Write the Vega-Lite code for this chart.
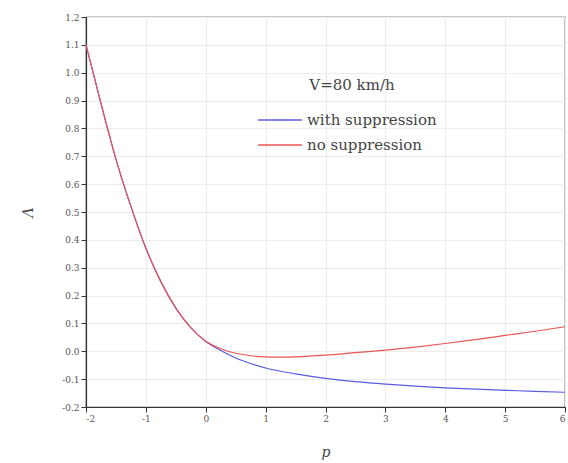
{
  "$schema": "https://vega.github.io/schema/vega-lite/v6.json",
  "width": 479,
  "height": 390,
  "autosize": {"type": "none"},
  "padding": {"left": 86, "top": 17, "right": 3, "bottom": 56},
  "background": "white",
  "config": {
    "font": "DejaVu Serif",
    "view": {"stroke": "#333333", "strokeWidth": 1.2},
    "axis": {
      "labelFont": "DejaVu Serif",
      "titleFont": "DejaVu Serif",
      "labelFontSize": 9,
      "labelColor": "#555555",
      "tickColor": "#333333",
      "domainColor": "#333333",
      "domainWidth": 1.2,
      "tickSize": 5,
      "gridColor": "#ececec",
      "gridWidth": 1,
      "titleFontWeight": "normal",
      "titleFontStyle": "italic",
      "titleFontSize": 14,
      "titleColor": "#444444"
    },
    "legend": {
      "labelFont": "DejaVu Serif",
      "titleFont": "DejaVu Serif"
    }
  },
  "data": {
    "values": [
      {"p": -2.0, "A": 1.100, "series": "with suppression"},
      {"p": -1.75, "A": 0.890, "series": "with suppression"},
      {"p": -1.5, "A": 0.690, "series": "with suppression"},
      {"p": -1.25, "A": 0.520, "series": "with suppression"},
      {"p": -1.0, "A": 0.370, "series": "with suppression"},
      {"p": -0.75, "A": 0.250, "series": "with suppression"},
      {"p": -0.5, "A": 0.155, "series": "with suppression"},
      {"p": -0.25, "A": 0.085, "series": "with suppression"},
      {"p": 0.0, "A": 0.035, "series": "with suppression"},
      {"p": 0.25, "A": 0.003, "series": "with suppression"},
      {"p": 0.5, "A": -0.024, "series": "with suppression"},
      {"p": 0.75, "A": -0.044, "series": "with suppression"},
      {"p": 1.0, "A": -0.060, "series": "with suppression"},
      {"p": 1.5, "A": -0.081, "series": "with suppression"},
      {"p": 2.0, "A": -0.097, "series": "with suppression"},
      {"p": 2.5, "A": -0.109, "series": "with suppression"},
      {"p": 3.0, "A": -0.118, "series": "with suppression"},
      {"p": 3.5, "A": -0.125, "series": "with suppression"},
      {"p": 4.0, "A": -0.131, "series": "with suppression"},
      {"p": 4.5, "A": -0.136, "series": "with suppression"},
      {"p": 5.0, "A": -0.140, "series": "with suppression"},
      {"p": 5.5, "A": -0.144, "series": "with suppression"},
      {"p": 6.0, "A": -0.147, "series": "with suppression"},
      {"p": -2.0, "A": 1.100, "series": "no suppression"},
      {"p": -1.75, "A": 0.890, "series": "no suppression"},
      {"p": -1.5, "A": 0.690, "series": "no suppression"},
      {"p": -1.25, "A": 0.520, "series": "no suppression"},
      {"p": -1.0, "A": 0.370, "series": "no suppression"},
      {"p": -0.75, "A": 0.250, "series": "no suppression"},
      {"p": -0.5, "A": 0.155, "series": "no suppression"},
      {"p": -0.25, "A": 0.085, "series": "no suppression"},
      {"p": 0.0, "A": 0.036, "series": "no suppression"},
      {"p": 0.25, "A": 0.009, "series": "no suppression"},
      {"p": 0.5, "A": -0.007, "series": "no suppression"},
      {"p": 0.75, "A": -0.016, "series": "no suppression"},
      {"p": 1.0, "A": -0.020, "series": "no suppression"},
      {"p": 1.25, "A": -0.021, "series": "no suppression"},
      {"p": 1.5, "A": -0.020, "series": "no suppression"},
      {"p": 2.0, "A": -0.014, "series": "no suppression"},
      {"p": 2.5, "A": -0.005, "series": "no suppression"},
      {"p": 3.0, "A": 0.004, "series": "no suppression"},
      {"p": 3.5, "A": 0.015, "series": "no suppression"},
      {"p": 4.0, "A": 0.028, "series": "no suppression"},
      {"p": 4.5, "A": 0.042, "series": "no suppression"},
      {"p": 5.0, "A": 0.057, "series": "no suppression"},
      {"p": 5.5, "A": 0.072, "series": "no suppression"},
      {"p": 6.0, "A": 0.088, "series": "no suppression"}
    ]
  },
  "mark": {"type": "line", "strokeWidth": 1.2, "interpolate": "monotone"},
  "encoding": {
    "x": {
      "field": "p", "type": "quantitative",
      "scale": {"domain": [-2, 6], "nice": false, "zero": false},
      "axis": {"title": "p", "values": [-2, -1, 0, 1, 2, 3, 4, 5, 6], "format": "d", "labelExpr": "replace(datum.label, '\u2212', '-')", "titlePadding": 22}
    },
    "y": {
      "field": "A", "type": "quantitative",
      "scale": {"domain": [-0.2, 1.2], "nice": false, "zero": false},
      "axis": {
        "title": "Λ",
        "values": [-0.2, -0.1, 0.0, 0.1, 0.2, 0.3, 0.4, 0.5, 0.6, 0.7, 0.8, 0.9, 1.0, 1.1, 1.2],
        "format": ".1f",
        "labelExpr": "replace(datum.label, '\u2212', '-')",
        "titlePadding": 26
      }
    },
    "color": {
      "field": "series", "type": "nominal",
      "scale": {"domain": ["with suppression", "no suppression"], "range": ["#5b5be0", "#e85555"]},
      "legend": {
        "title": "V=80 km/h",
        "orient": "none",
        "legendX": 182,
        "legendY": 61,
        "symbolType": "M-2,0H2",
        "symbolSize": 480,
        "symbolFillColor": "transparent",
        "symbolStrokeWidth": 1.3,
        "labelFontSize": 15,
        "labelColor": "#444444",
        "titleFontSize": 15,
        "titleFontWeight": "normal",
        "titleColor": "#444444",
        "titleAnchor": "middle",
        "titlePadding": 15,
        "rowPadding": 5,
        "labelOffset": 15
      }
    }
  }
}
